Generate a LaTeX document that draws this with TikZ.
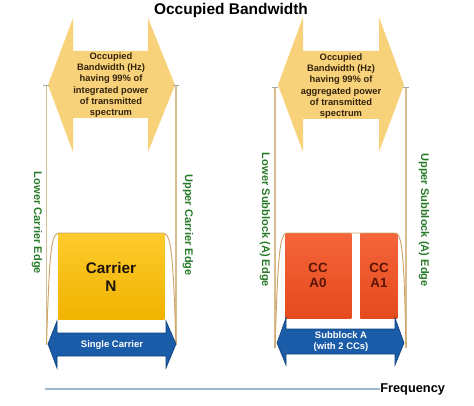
\documentclass[tikz,border=0pt]{standalone}
\usepackage{fontspec}
\setmainfont{Liberation Sans}
\definecolor{obwfill}{HTML}{F8D27A}
\definecolor{obwtext}{HTML}{33230C}
\definecolor{edgegreen}{RGB}{40,122,40}
\definecolor{edgeline}{HTML}{D9BD90}
\definecolor{maskline}{HTML}{D0A466}
\definecolor{carriertop}{HTML}{FDCB2C}
\definecolor{carrierbot}{HTML}{F0B300}
\definecolor{cctop}{HTML}{F4643A}
\definecolor{ccbot}{HTML}{E54A1C}
\definecolor{ccText}{HTML}{5A1408}
\definecolor{bluefill}{HTML}{1A5CA8}
\definecolor{blueedge}{HTML}{12437E}
\definecolor{axisblue}{HTML}{9DB8CC}
\tikzset{
  x=0.75pt,y=-0.75pt,
  obwarrow/.style={fill=obwfill,draw=none},
  obwlabel/.style={font=\bfseries\fontsize{7}{8.4}\selectfont,text=obwtext,align=center,inner sep=0pt},
  edgelabel/.style={font=\bfseries\fontsize{8.3}{10}\selectfont,text=edgegreen,rotate=-90,inner sep=0pt},
  edgeln/.style={draw=edgeline,line width=1.4pt},
  maskln/.style={draw=maskline,line width=0.7pt},
  bluearrow/.style={fill=bluefill,draw=blueedge,line width=0.5pt},
  bluelabel/.style={font=\bfseries\fontsize{7.1}{8.3}\selectfont,text=white,align=center,inner sep=0pt},
  carrierbox/.style={top color=carriertop,bottom color=carrierbot,draw=none},
  ccbox/.style={top color=cctop,bottom color=ccbot,draw=none},
}
\begin{document}
\begin{tikzpicture}
\useasboundingbox (0,0) rectangle (474,406);
% title
\node[font=\bfseries\fontsize{11.6}{13}\selectfont,inner sep=0pt] (title) at (231,11) {Occupied Bandwidth};

% ---------- left: single carrier ----------
\fill[obwarrow] (48,85) -- (73,18) -- (73,51) -- (148,51) -- (148,18) -- (175,85)
  -- (148,152) -- (148,118) -- (73,118) -- (73,152) -- cycle;
\node[obwlabel] (obwL) at (111,85) {Occupied\\Bandwidth (Hz)\\having 99\% of\\integrated power\\of transmitted\\spectrum};

\coordinate (llt) at (46.5,85); \coordinate (llb) at (46.5,345);
\coordinate (lrt) at (176,85); \coordinate (lrb) at (176,345);
\draw[edgeln] (llt) -- (llb);
\draw[edgeln] (lrt) -- (lrb);
\draw[draw=gray!70,line width=0.6pt] (43,85) -- (49,85);
\draw[draw=gray!70,line width=0.6pt] (173,85) -- (179,85);

\node[edgelabel] (lce) at (37,223) {Lower Carrier Edge};
\node[edgelabel] (uce) at (188,225) {Upper Carrier Edge};

\node[carrierbox,minimum width=106*0.75pt,minimum height=86*0.75pt,inner sep=0pt,anchor=north west] (carrier) at (58,233) {};
\node[font=\bfseries\fontsize{11.5}{14}\selectfont,text=black!85!brown,align=center,inner sep=0pt] (carrierTxt) at (111,277) {Carrier\\N};

\draw[maskln] (llb) .. controls (49.5,250) and (51,234) .. (59,233) -- (163,233)
  .. controls (171,234) and (173,250) .. (lrb);

\fill[bluearrow] (48,344) -- (57,321) -- (57,333) -- (166,333) -- (166,321) -- (176,344)
  -- (166,368) -- (166,356) -- (57,356) -- (57,368) -- cycle;
\node[bluelabel] (single) at (112,345) {Single Carrier};

% ---------- right: subblock ----------
\fill[obwarrow] (278,85) -- (303,17) -- (303,51) -- (379,51) -- (379,17) -- (404,85)
  -- (379,152) -- (379,119) -- (303,119) -- (303,152) -- cycle;
\node[obwlabel] (obwR) at (341,86) {Occupied\\Bandwidth (Hz)\\having 99\% of\\aggregated power\\of transmitted\\spectrum};

\coordinate (rlt) at (275,87); \coordinate (rlb) at (275,348);
\coordinate (rrt) at (406,87); \coordinate (rrb) at (406,348);
\draw[edgeln] (rlt) -- (rlb);
\draw[edgeln] (rrt) -- (rrb);
\draw[draw=gray!70,line width=0.6pt] (272,87) -- (278,87);
\draw[draw=gray!70,line width=0.6pt] (403,87) -- (409,87);

\node[edgelabel] (lse) at (265,220) {Lower Subblock (A) Edge};
\node[edgelabel] (use) at (424,220) {Upper Subblock (A) Edge};

\node[ccbox,minimum width=66*0.75pt,minimum height=85*0.75pt,inner sep=0pt,anchor=north west] (cc0) at (285,233) {};
\node[ccbox,minimum width=37*0.75pt,minimum height=85*0.75pt,inner sep=0pt,anchor=north west] (cc1) at (360,233) {};
\node[font=\bfseries\fontsize{10}{11.2}\selectfont,text=ccText,align=center,inner sep=0pt] (cc0txt) at (318,275) {CC\\A0};
\node[font=\bfseries\fontsize{10}{11.2}\selectfont,text=ccText,align=center,inner sep=0pt] (cc1txt) at (379,275) {CC\\A1};

\draw[maskln] (rlb) .. controls (278,250) and (280,234) .. (287,233) -- (395,233)
  .. controls (402,234) and (404,250) .. (rrb);

\fill[bluearrow] (277,343) -- (286,318) -- (286,329) -- (395,329) -- (395,318) -- (404,343)
  -- (395,365) -- (395,354) -- (286,354) -- (286,365) -- cycle;
\node[bluelabel] (sub) at (341,342) {Subblock A\\(with 2 CCs)};

% ---------- frequency axis ----------
\coordinate (axs) at (45,389);
\node[font=\bfseries\fontsize{9.6}{11}\selectfont,inner sep=0pt,anchor=west] (freq) at (380,389) {Frequency};
\draw[draw=axisblue,line width=1.6pt] (axs) -- (freq.west);
\end{tikzpicture}
\end{document}
